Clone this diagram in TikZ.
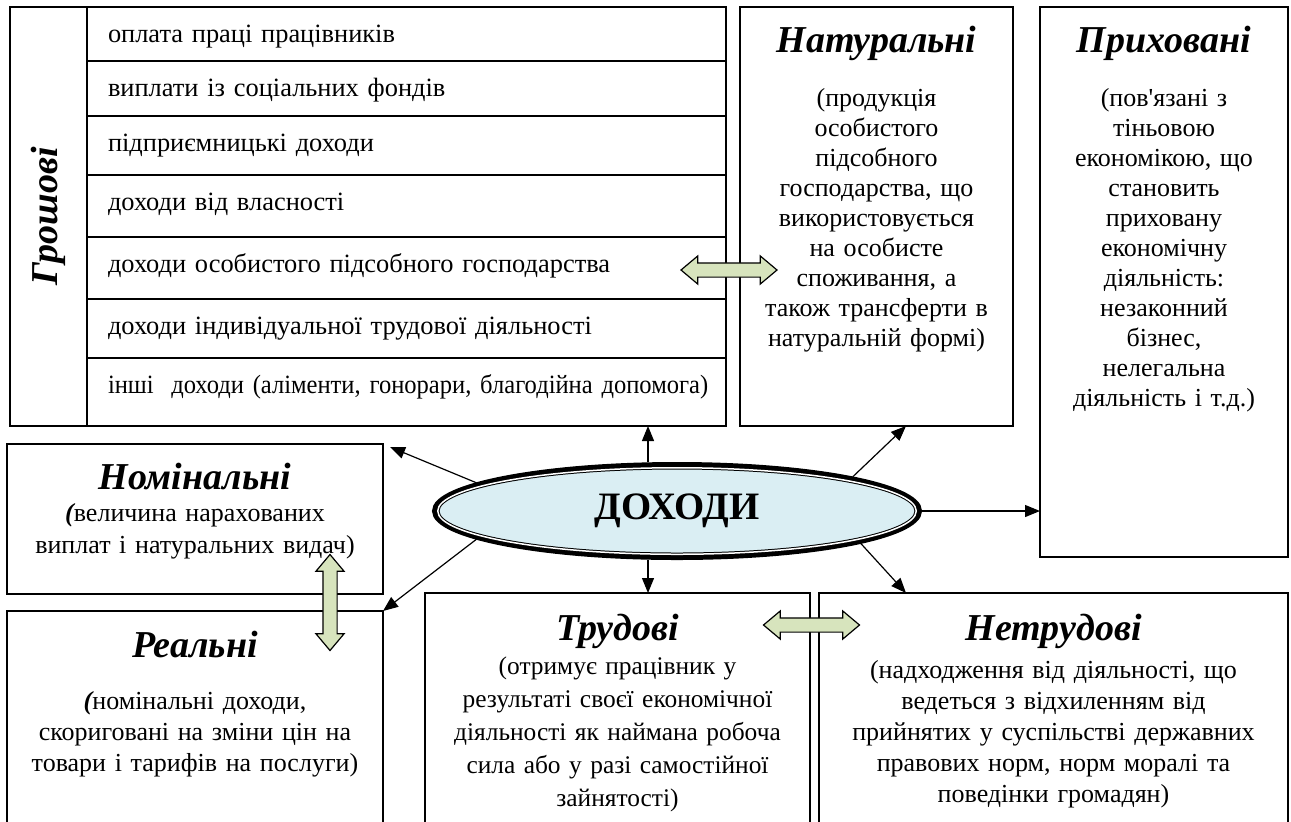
\documentclass[tikz,border=0pt]{standalone}
\usepackage{fontspec}
\setmainfont{Liberation Serif}
\usepackage{tikz}
\usetikzlibrary{shapes.geometric, shapes.arrows, arrows.meta, positioning, calc}
\definecolor{ovalfill}{RGB}{218,238,243}
\definecolor{linkfill}{RGB}{215,228,189}
\newcommand{\ttl}{\fontsize{19}{15}\selectfont\bfseries\itshape}
\newcommand{\bparen}{{\bfseries\itshape (}}
\tikzset{
  box/.style={
    rectangle, draw, line width=0.9pt,
    inner sep=0pt, outer sep=0pt, anchor=north west,
    align=center, font=\fontsize{13}{15}\selectfont},
  rowbox/.style={
    rectangle, draw, line width=0.9pt,
    inner sep=0pt, outer sep=0pt,
    text width=319.5pt, align=left, text height=17.5pt,
    execute at begin node={\hspace*{10.5pt}},
    font=\fontsize{13.2}{15}\selectfont},
  oval/.style={
    ellipse, draw, line width=2.5pt, fill=ovalfill,
    minimum width=242.5pt, minimum height=46.5pt},
  ovalin/.style={
    ellipse, draw, line width=0.5pt, double=white,
    double distance=0.75pt, inner sep=0pt,
    minimum width=239.25pt, minimum height=43.25pt,
    font=\fontsize{19.4}{20}\selectfont\bfseries},
  link/.style={
    double arrow, draw, line width=0.6pt, fill=linkfill,
    minimum height=48pt, inner xsep=0pt, inner ysep=3.25pt,
    double arrow head extend=3.5pt, double arrow tip angle=80},
  arrow/.style={-{Triangle[length=7.5pt, width=6pt]}, line width=0.6pt}
}
\begin{document}
\begin{tikzpicture}[x=0.5pt, y=-0.5pt]
  \useasboundingbox (0,0) rectangle (1291,821);
  \clip (0,0) rectangle (1291,821);

  %% Money incomes: column and rows
  \node[draw, line width=0.9pt, rotate=90, inner sep=0pt, outer sep=0pt,
        minimum width=209.5pt, minimum height=38.5pt, font=\ttl]
    (gros) at (48.5,216.5) {Грошові};
  \node[rowbox, text depth=9.5pt, anchor=north west] (r1) at (87,7)
    {оплата праці працівників};
  \node[rowbox, text depth=10pt, below=0pt of r1] (r2)
    {виплати із соціальних фондів};
  \node[rowbox, text depth=12pt, below=0pt of r2] (r3)
    {підприємницькі доходи};
  \node[rowbox, text depth=13.5pt, below=0pt of r3] (r4)
    {доходи від власності};
  \node[rowbox, text depth=13.5pt, below=0pt of r4] (r5)
    {доходи особистого підсобного господарства};
  \node[rowbox, text depth=12pt, below=0pt of r5] (r6)
    {доходи індивідуальної трудової діяльності};
  \node[rowbox, text depth=16.5pt, below=0pt of r6,
        font=\fontsize{13.2}{15}\selectfont\addfontfeature{FakeStretch=0.93}] (r7)
    {інші\ \ доходи (аліменти, гонорари, благодійна допомога)};

  %% Top right boxes
  \node[box, text width=136.5pt, text height=22.5pt, text depth=187pt]
    (nat) at (740,7)
    {{\ttl Натуральні}\\[12pt]
     (продукція\\ особистого\\ підсобного\\ господарства, що\\
     використовується\\ на особисте\\ споживання, а\\
     також трансферти в\\ натуральній формі)};
  \node[box, text width=124pt, text height=22.5pt, text depth=252.5pt]
    (hid) at (1040,7)
    {{\ttl Приховані}\\[12pt]
     (пов\textquotesingle язані з\\ тіньовою\\ економікою, що\\ становить\\
     приховану\\ економічну\\ діяльність:\\ незаконний\\ бізнес,\\
     нелегальна\\ діяльність і т.д.)};

  %% Left boxes
  \node[box, text width=188pt, text height=22.5pt, text depth=52.5pt,
        font=\fontsize{13}{16}\selectfont]
    (nom) at (7,444)
    {{\ttl Номінальні}\\
     \bparen величина нарахованих\\ виплат і натуральних видач)};
  \node[box, text width=188pt, text height=23pt, text depth=96.5pt,
        font=\fontsize{13}{15.5}\selectfont]
    (real) at (7,611)
    {{\ttl Реальні}\\[10.5pt]
     \bparen номінальні доходи,\\ скориговані на зміни цін на\\
     товари і тарифів на послуги)};

  %% Bottom boxes
  \node[box, text width=192.5pt, text height=23.5pt, text depth=105pt,
        font=\fontsize{12.7}{16.5}\selectfont]
    (trud) at (425,593)
    {{\ttl Трудові}\\[0.5pt]
     (отримує працівник у\\ результаті своєї економічної\\
     діяльності як наймана робоча\\ сила або у разі самостійної\\
     зайнятості)};
  \node[box, text width=234.5pt, text height=23.5pt, text depth=105pt,
        font=\fontsize{13}{15.5}\selectfont]
    (netr) at (819,593)
    {{\ttl Нетрудові}\\[3.5pt]
     (надходження від діяльності, що\\ ведеться з відхиленням від\\
     прийнятих у суспільстві державних\\ правових норм, норм моралі та\\
     поведінки громадян)};

  %% Centre oval
  \node[oval] (doh) at (677,511) {};
  \node[ovalin] (dohin) at (doh) {ДОХОДИ};

  %% Arrows from the oval
  \draw[arrow] ([xshift=-14.5pt]doh.north) -- ([xshift=-14.5pt]doh.north |- r7.south);
  \draw[arrow] (doh.172) -- ([shift={(3.5pt,-1.5pt)}]nom.north east);
  \draw[arrow] (doh.188) -- (real.north east);
  \draw[arrow] (doh.11)  -- ([xshift=14.75pt]nat.south west -| nat.south);
  \draw[arrow] (doh.east) -- (doh.east -| hid.west);
  \draw[arrow] (doh.-10) -- ([xshift=43.5pt]netr.north west);
  \draw[arrow] ([xshift=-14.5pt]doh.south) -- ([xshift=-14.5pt]doh.south |- trud.north);

  %% Two-way links
  \node[link] (l1) at ($(r5.east)!0.5!(nat.west |- r5.east) + (-2pt,-1pt)$) {};
  \node[link, shape border rotate=90, inner xsep=3.25pt, inner ysep=0pt] (l2)
    at ($(nom.south east)!0.5!(real.north east) + (-26.5pt,0)$) {};
  \node[link] (l3) at ($(trud.north east)!0.5!(netr.north west) + (-1.5pt,-16pt)$) {};

\end{tikzpicture}
\end{document}
